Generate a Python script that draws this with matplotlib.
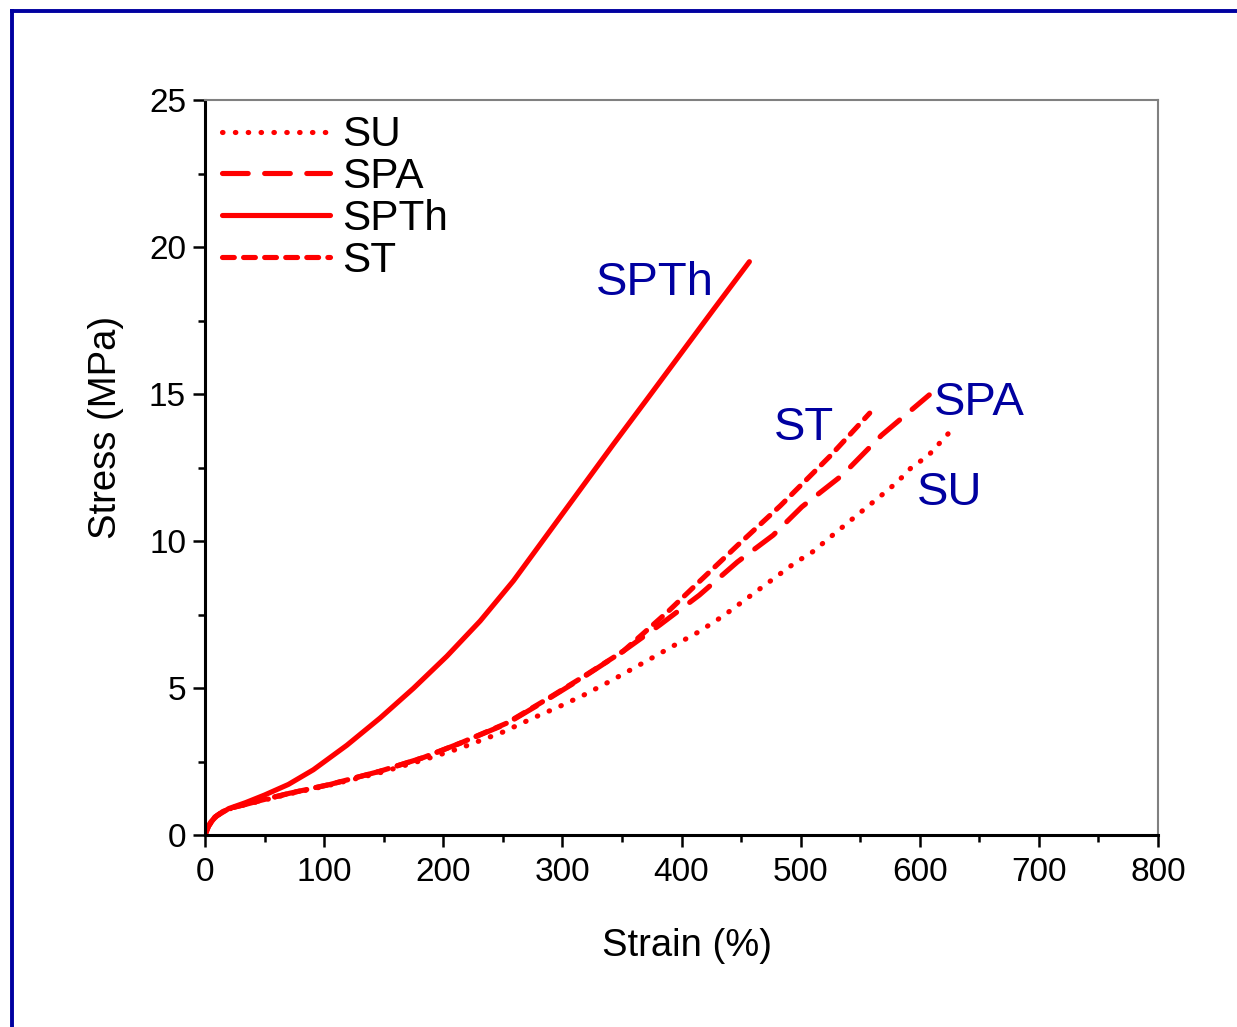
import matplotlib
matplotlib.use("Agg")
import matplotlib.pyplot as plt
from matplotlib.lines import Line2D
from matplotlib.ticker import MultipleLocator

plt.rcParams['font.family'] = ['Liberation Sans', 'DejaVu Sans']

# ---- data ----
spth_strain = [0, 2, 5, 10, 20, 34, 50, 70, 91, 119, 147, 175, 203, 231, 259, 287, 315, 343, 371, 399, 427, 457]
spth_stress = [0, 0.25, 0.45, 0.65, 0.9, 1.1, 1.36, 1.72, 2.22, 3.05, 3.98, 4.99, 6.08, 7.28, 8.65, 10.2, 11.75, 13.3, 14.82, 16.35, 17.88, 19.5]

st_strain = [0, 3, 8, 15, 25, 35, 48, 71, 105, 147, 183, 214, 253, 287, 315, 351, 365, 390, 415, 447, 483, 525, 558]
st_stress = [0, 0.3, 0.6, 0.8, 0.95, 1.05, 1.19, 1.42, 1.72, 2.17, 2.63, 3.12, 3.8, 4.62, 5.32, 6.25, 6.75, 7.65, 8.62, 9.85, 11.2, 12.9, 14.35]

spa_strain = [0, 3, 8, 15, 25, 35, 48, 71, 105, 147, 183, 214, 253, 287, 315, 351, 382, 415, 447, 477, 501, 535, 568, 608]
spa_stress = [0, 0.3, 0.6, 0.8, 0.95, 1.05, 1.19, 1.42, 1.72, 2.17, 2.63, 3.12, 3.78, 4.6, 5.3, 6.25, 7.15, 8.16, 9.29, 10.2, 11.16, 12.24, 13.6, 14.97]

su_strain = [0, 3, 8, 15, 25, 35, 48, 71, 105, 147, 183, 214, 250, 276, 297, 318, 341, 376, 393, 414, 435, 468, 495, 510, 529, 548, 568, 581, 593, 607, 625]
su_stress = [0, 0.3, 0.6, 0.8, 0.95, 1.05, 1.17, 1.4, 1.7, 2.12, 2.55, 2.95, 3.5, 3.99, 4.36, 4.76, 5.25, 6.04, 6.43, 6.9, 7.45, 8.44, 9.25, 9.63, 10.27, 10.9, 11.56, 12.0, 12.5, 12.9, 13.7]

labels = ['SU', 'SPA', 'SPTh', 'ST']
ann_text = ['SPTh', 'ST', 'SPA', 'SU']
ann_x = [377.7, 502.8, 649.7, 625.4]
ann_y = [18.78, 13.84, 14.69, 11.63]

red = '#FF0000'
blue = '#0000A0'

W, H = 1237, 1027
fig = plt.figure(figsize=(W / 100, H / 100), dpi=100)
ax = fig.add_axes([205 / W, 1 - 835 / H, (1158 - 205) / W, (835 - 100) / H])

lw = 3.7
ax.plot(su_strain, su_stress, color=red, lw=lw, linestyle=(0, (0.1, 2.4)),
        dash_capstyle='round', solid_capstyle='round', label=labels[0])
ax.plot(spa_strain, spa_stress, color=red, lw=lw, linestyle=(0, (5.0, 3.2)),
        dash_capstyle='round', label=labels[1])
ax.plot(spth_strain, spth_stress, color=red, lw=lw, linestyle='-',
        solid_capstyle='round', solid_joinstyle='round', label=labels[2])
ax.plot(st_strain, st_stress, color=red, lw=lw, linestyle=(0, (2.3, 1.8)),
        dash_capstyle='round', label=labels[3])

for t, x, y in zip(ann_text, ann_x, ann_y):
    ax.text(x, y, t, color=blue, fontsize=34, ha='center', va='center')

ax.set_xlim(0, 800)
ax.set_ylim(0, 25)
ax.xaxis.set_major_locator(MultipleLocator(100))
ax.xaxis.set_minor_locator(MultipleLocator(50))
ax.yaxis.set_major_locator(MultipleLocator(5))
ax.yaxis.set_minor_locator(MultipleLocator(2.5))

ax.tick_params(which='both', direction='out', width=1.8, colors='black',
               top=False, right=False)
ax.tick_params(which='major', length=8.6, labelsize=24)
ax.tick_params(axis='x', which='major', pad=7)
ax.tick_params(axis='y', which='major', pad=5)
ax.tick_params(which='minor', length=5)

for s in ['left', 'bottom']:
    ax.spines[s].set_linewidth(2.2)
    ax.spines[s].set_color('black')
for s in ['top', 'right']:
    ax.spines[s].set_linewidth(1.5)
    ax.spines[s].set_color('#808080')

ax.set_xlabel('Strain (%)', fontsize=27.5, labelpad=29, x=0.506)
ax.set_ylabel('Stress (MPa)', fontsize=27.5, labelpad=18, y=0.555)

leg = ax.legend(loc='upper left', bbox_to_anchor=(0.018, 0.979), frameon=False,
                fontsize=30.4, handlelength=2.55, handletextpad=0.28,
                labelspacing=0.04, borderpad=0, borderaxespad=0)

# blue frame
fig.add_artist(Line2D([11.5 / W, 11.5 / W], [0, 1 - 10.5 / H], transform=fig.transFigure,
                      color=blue, lw=2.8, solid_capstyle='projecting'))
fig.add_artist(Line2D([11.5 / W, 1], [1 - 10.5 / H, 1 - 10.5 / H], transform=fig.transFigure,
                      color=blue, lw=2.8, solid_capstyle='projecting'))

fig.savefig('out.png', dpi=100)
